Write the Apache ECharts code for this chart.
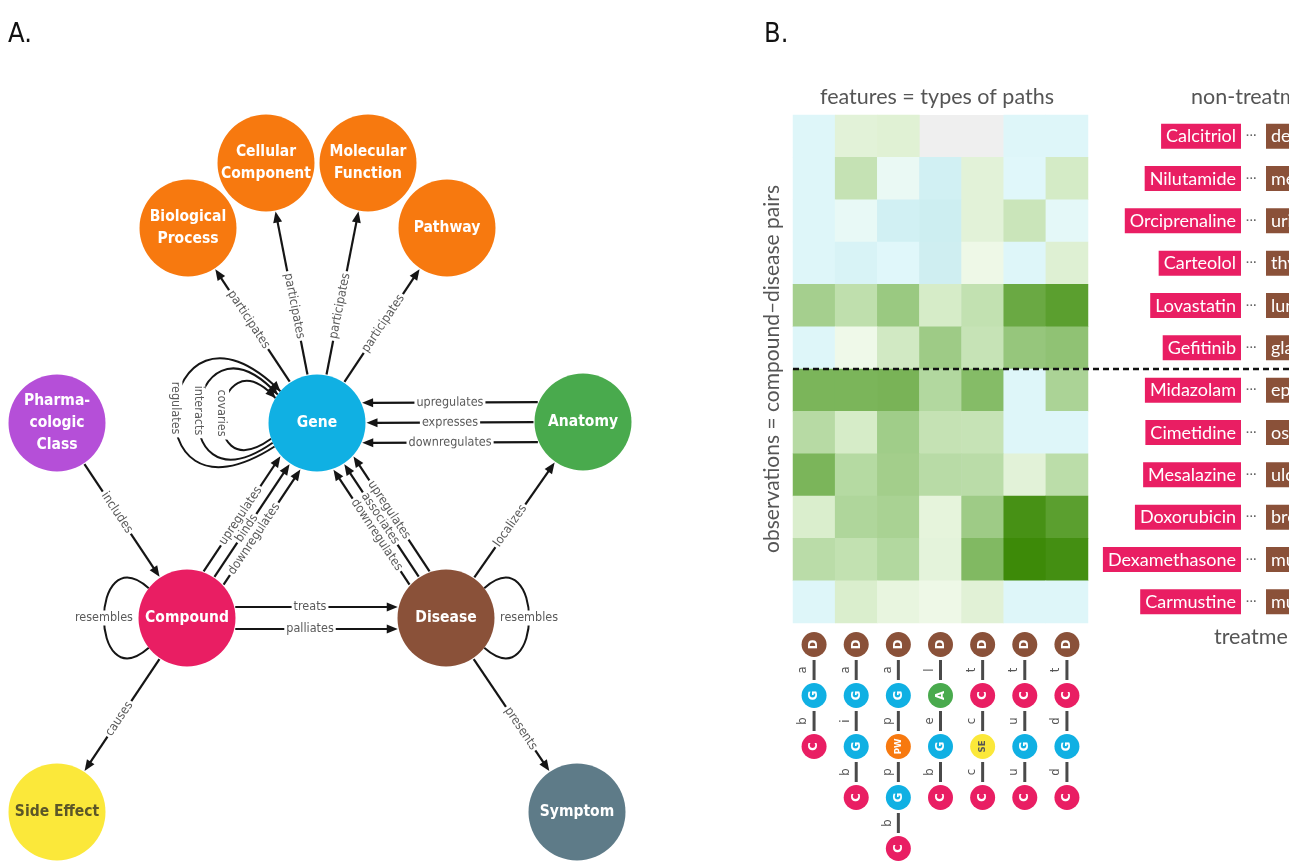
<!DOCTYPE html>
<html><head><meta charset="utf-8">
<script src="https://cdn.jsdelivr.net/npm/echarts@6/dist/echarts.min.js"></script>
<style>html,body{margin:0;padding:0;background:#fff}#c{width:1289px;height:861px}</style>
</head><body><div id="c"></div>
<script>
// ---------- Panel A: metagraph ----------
const nodeNames  = ['Biological Process','Cellular Component','Molecular Function','Pathway','Gene','Pharmacologic Class','Anatomy','Compound','Disease','Side Effect','Symptom'];
const nodeLabels = ['Biological\nProcess','Cellular\nComponent','Molecular\nFunction','Pathway','Gene','Pharma-\ncologic\nClass','Anatomy','Compound','Disease','Side Effect','Symptom'];
const nodeX = [188, 266, 368, 447, 317, 57, 583, 187, 446, 57, 577];
const nodeY = [228, 163, 163, 228, 423, 423, 422, 618, 618, 812, 812];
const nodeColors = ['#f7790f','#f7790f','#f7790f','#f7790f','#10b0e3','#b54fd8','#49aa4d','#e91e63','#8a5139','#fbe83a','#5e7b88'];

const edgeSources = ['Gene','Gene','Gene','Gene','Anatomy','Anatomy','Anatomy','Pharmacologic Class','Compound','Compound','Compound','Disease','Disease','Disease','Disease','Compound','Compound','Compound','Disease'];
const edgeTargets = ['Biological Process','Cellular Component','Molecular Function','Pathway','Gene','Gene','Gene','Compound','Gene','Gene','Gene','Gene','Gene','Gene','Anatomy','Disease','Disease','Side Effect','Symptom'];
const edgeLabels  = ['participates','participates','participates','participates','upregulates','expresses','downregulates','includes','upregulates','binds','downregulates','downregulates','associates','upregulates','localizes','treats','palliates','causes','presents'];
// perpendicular offset of parallel edges and label position along edge (layout only)
const edgeOffsets  = [0,0,0,0, 20,0,-20, 0, -12,0,12, -12,0,12, 0, -11,11, 0,0];
const edgeLabelPos = [0.53,0.45,0.45,0.51, 0.5,0.5,0.5, 0.46, 0.49,0.46,0.44, 0.46,0.51,0.52, 0.47, 0.475,0.475, 0.52,0.57];

const loopNodes  = ['Gene','Gene','Gene','Compound','Disease'];
const loopLabels = ['regulates','interacts','covaries','resembles','resembles'];
// loop geometry (layout only): direction, endpoint spread, reach, control spread
const loopDir    = [186, 186, 186, 180, 0];
const loopSpread = [35, 30, 25, 38, 38];
const loopReach  = [225, 185, 140, 128, 128];
const loopCtrl   = [38, 38, 36, 40, 40];

// ---------- Panel B: feature matrix ----------
const compounds = ['Calcitriol','Nilutamide','Orciprenaline','Carteolol','Lovastatin','Gefitinib','Midazolam','Cimetidine','Mesalazine','Doxorubicin','Dexamethasone','Carmustine'];
const diseases  = ['dermatitis','melanoma','urinary bladder cancer','thyroid cancer','lung cancer','glaucoma','epilepsy syndrome','osteoarthritis','ulcerative colitis','breast cancer','multiple sclerosis','multiple myeloma'];
const metapaths = ['CbGaD','CbGiGaD','CbGpPWpGaD','CbGeAlD','CcSEcCtD','CuGuCtD','CdGdCtD'];
const pathNodes = [['C','G','D'],['C','G','G','D'],['C','G','PW','G','D'],['C','G','A','D'],['C','SE','C','D'],['C','G','C','D'],['C','G','C','D']];
const pathEdges = [['b','a'],['b','i','a'],['b','p','p','a'],['b','e','l'],['c','c','t'],['u','u','t'],['d','d','t']];
const heatValues = [
  [-0.30, 0.15, 0.17, null, null, -0.30, -0.30],
  [-0.30, 0.36, -0.12, -0.60, 0.15, -0.25, 0.26],
  [-0.30, -0.15, -0.60, -0.68, 0.15, 0.33, -0.20],
  [-0.30, -0.45, -0.25, -0.65, 0.05, -0.30, 0.18],
  [0.55, 0.40, 0.60, 0.25, 0.38, 0.82, 0.88],
  [-0.30, 0.04, 0.28, 0.58, 0.35, 0.62, 0.65],
  [0.75, 0.75, 0.76, 0.48, 0.70, -0.30, 0.52],
  [0.45, 0.25, 0.57, 0.36, 0.35, -0.30, -0.30],
  [0.75, 0.46, 0.56, 0.44, 0.43, 0.15, 0.42],
  [0.22, 0.50, 0.53, 0.12, 0.58, 0.96, 0.88],
  [0.43, 0.38, 0.48, 0.13, 0.72, 1.00, 0.97],
  [-0.30, 0.22, 0.10, 0.05, 0.16, -0.30, -0.30]
];

const NARROW = "'Liberation Sans Narrow','DejaVu Sans Condensed','Roboto Condensed',Roboto,sans-serif";
const LATO = "Lato,'Open Sans',sans-serif";
const R = 48.5;
const nodeIdx = n => nodeNames.indexOf(n);

function renderEdge(params, api){
  const i = params.dataIndex;
  const s = nodeIdx(edgeSources[i]), t = nodeIdx(edgeTargets[i]);
  const P = api.coord([nodeX[s], nodeY[s]]), Q = api.coord([nodeX[t], nodeY[t]]);
  const dx = Q[0]-P[0], dy = Q[1]-P[1], L = Math.hypot(dx,dy);
  const ux = dx/L, uy = dy/L, nx = -uy, ny = ux;
  const o = edgeOffsets[i];
  const d = Math.sqrt(R*R - o*o);
  const sx = P[0]+ux*(d+1)+nx*o, sy = P[1]+uy*(d+1)+ny*o;
  const ex = Q[0]-ux*(d+1)+nx*o, ey = Q[1]-uy*(d+1)+ny*o;
  const ah = 11, aw = 4.5;
  const bx = ex-ux*ah, by = ey-uy*ah;
  const tp = edgeLabelPos[i];
  const lx = P[0]+dx*tp+nx*o, ly = P[1]+dy*tp+ny*o;
  let th = Math.atan2(uy, ux);
  if (ux < -1e-6) th += Math.PI;
  return {type:'group', children:[
    {type:'line', shape:{x1:sx,y1:sy,x2:bx+ux*2,y2:by+uy*2}, style:{stroke:'#151515', lineWidth:2.2}},
    {type:'polygon', shape:{points:[[ex,ey],[bx+nx*aw,by+ny*aw],[bx-nx*aw,by-ny*aw]]}, style:{fill:'#151515'}},
    {type:'text', x:lx, y:ly, rotation:-th, z2:5, style:{text:edgeLabels[i], fill:'#5a5a5a', fontSize:12.5, fontFamily:NARROW,
      align:'center', verticalAlign:'middle', backgroundColor:'#fff', padding:[0,2]}}
  ]};
}

function renderLoop(params, api){
  const i = params.dataIndex;
  const k = nodeIdx(loopNodes[i]);
  const C = api.coord([nodeX[k], nodeY[k]]);
  const rad = a => a*Math.PI/180;
  const phi = loopDir[i], a = loopSpread[i], D = loopReach[i], b = loopCtrl[i];
  const p0 = [C[0]+R*Math.cos(rad(phi-a)), C[1]+R*Math.sin(rad(phi-a))];
  const p3 = [C[0]+R*Math.cos(rad(phi+a)), C[1]+R*Math.sin(rad(phi+a))];
  const c1 = [C[0]+D*Math.cos(rad(phi-b)), C[1]+D*Math.sin(rad(phi-b))];
  const c2 = [C[0]+D*Math.cos(rad(phi+b)), C[1]+D*Math.sin(rad(phi+b))];
  const mx = 0.125*(p0[0]+p3[0])+0.375*(c1[0]+c2[0]);
  const my = 0.125*(p0[1]+p3[1])+0.375*(c1[1]+c2[1]);
  const children = [
    {type:'bezierCurve', shape:{x1:p0[0],y1:p0[1],x2:p3[0],y2:p3[1],cpx1:c1[0],cpy1:c1[1],cpx2:c2[0],cpy2:c2[1]},
     style:{stroke:'#151515', lineWidth:2, fill:null}}
  ];
  const vertical = loopNodes[i] === 'Gene';
  if (vertical) {
    let tx = p3[0]-c2[0], ty = p3[1]-c2[1]; const tl = Math.hypot(tx,ty); tx/=tl; ty/=tl;
    const ex = p3[0], ey = p3[1], bx = ex-tx*10, by = ey-ty*10, nx=-ty, ny=tx;
    children.push({type:'polygon', shape:{points:[[ex,ey],[bx+nx*4.5,by+ny*4.5],[bx-nx*4.5,by-ny*4.5]]}, style:{fill:'#151515'}});
  }
  children.push({type:'text', x:mx, y:my, rotation: vertical ? -Math.PI/2 : 0, z2:5,
    style:{text:loopLabels[i], fill:'#5a5a5a', fontSize:12.5, fontFamily:NARROW, align:'center', verticalAlign:'middle',
      backgroundColor:'#fff', padding:[1,3]}});
  return {type:'group', children};
}

// ---------- path icon labels ----------
const circleColors = {C:'#e91e63', D:'#8a5139', G:'#10b0e3', A:'#49aa4d', SE:'#fbe83a', PW:'#f7790f'};
const pathRich = {};
Object.keys(circleColors).forEach(k => {
  pathRich['n'+k] = {width:25, height:25, lineHeight:20, borderRadius:12.5, backgroundColor:circleColors[k],
    color: k==='SE' ? '#555' : '#fff', align:'center', verticalAlign:'middle',
    fontSize: k.length>1 ? 9.5 : 13, fontWeight:'bold', fontFamily:NARROW};
});
pathRich.sp  = {width:25, height:2, lineHeight:2};
pathRich.el  = {width:26, height:2, lineHeight:2, align:'center', fontSize:13, color:'#555', fontFamily:NARROW, verticalAlign:'middle'};
pathRich.gap = {width:3, height:20, lineHeight:20};
pathRich.bar = {width:20, height:3, backgroundColor:'#4a4a4a', verticalAlign:'middle'};
pathRich.sp3 = {width:10, height:2, lineHeight:2};
function pathLabel(v, idx){
  const nodes = pathNodes[idx], edges = pathEdges[idx];
  let l1 = '', l2 = '';
  nodes.forEach((n,j) => {
    l1 += '{sp| }'; l2 += '{n'+n+'|'+n+'}';
    if (j < edges.length) { l1 += '{el|'+edges[j]+'}'; l2 += '{gap| }{bar| }{gap| }'; }
  });
  return l1 + '\n' + l2 + '\n{sp3| }';
}

const heatData = [];
heatValues.forEach((row, r) => row.forEach((v, c) => { if (v !== null) heatData.push([c, r, v]); }));

const chart = echarts.init(document.getElementById('c'), null, {renderer:'canvas'});
const hiddenCat = {axisLine:{show:false}, axisTick:{show:false}, splitLine:{show:false}};
const boxStyle = (bg) => ({backgroundColor:bg, color:'#fff', fontSize:18, fontFamily:LATO, padding:[4,5,3,5], lineHeight:19});
const option = {
  backgroundColor:'#fff',
  animation:false,
  title:[
    {text:'A.', left:8, top:21, padding:0, textStyle:{fontSize:27, fontWeight:'normal', color:'#111', fontFamily:NARROW}},
    {text:'B.', left:764, top:21, padding:0, textStyle:{fontSize:27, fontWeight:'normal', color:'#111', fontFamily:NARROW}},
    {text:'features = types of paths', left:937, top:86, padding:0, textAlign:'center', textStyle:{fontSize:21.5, fontWeight:'normal', color:'#555', fontFamily:LATO}},
    {text:'non-treatments', left:1191, top:86, padding:0, textStyle:{fontSize:21.5, fontWeight:'normal', color:'#555', fontFamily:LATO}},
    {text:'treatments', left:1214, top:626, padding:0, textStyle:{fontSize:21.5, fontWeight:'normal', color:'#555', fontFamily:LATO}}
  ],
  grid:[
    {left:0, top:0, width:1289, height:861, outerBoundsMode:'none', containLabel:false},
    {left:793, top:115, width:295, height:508, show:true, backgroundColor:'#efefef', borderWidth:0, outerBoundsMode:'none', containLabel:false}
  ],
  xAxis:[
    {gridIndex:0, type:'value', min:0, max:1289, show:false},
    Object.assign({gridIndex:1, type:'category', data:metapaths, position:'bottom',
      axisLabel:{interval:0, rotate:90, margin:9, formatter:pathLabel, rich:pathRich}}, hiddenCat)
  ],
  yAxis:[
    {gridIndex:0, type:'value', min:0, max:861, inverse:true, show:false},
    Object.assign({gridIndex:1, type:'category', data:compounds, inverse:true, position:'left',
      axisLabel:{show:false}, name:'observations = compound–disease pairs', nameLocation:'middle', nameRotate:90, nameGap:10,
      nameTextStyle:{fontSize:21, color:'#555', fontFamily:LATO}}, hiddenCat),
    Object.assign({gridIndex:1, type:'category', data:compounds, inverse:true, position:'right', offset:0,
      axisLabel:{interval:0, margin:153, align:'right', formatter:v => '{c|'+v+'}',
        rich:{c:boxStyle('#e91e63')}}}, hiddenCat),
    Object.assign({gridIndex:1, type:'category', data:compounds, inverse:true, position:'right', offset:0,
      axisLabel:{interval:0, margin:158, align:'left', formatter:(v,i) => '{dot|···}{d|'+diseases[i]+'}',
        rich:{dot:{width:20, color:'#666', fontSize:11, fontWeight:'bold'}, d:boxStyle('#8a5139')}}}, hiddenCat)
  ],
  visualMap:{type:'continuous', seriesIndex:3, min:-1, max:1, dimension:2, show:false,
    inRange:{color:['#bfe6ea','#caecef','#d6f2f5','#e0f7fa','#f4fbef','#d6ecc8','#afd69b','#7bb55a','#3d8a08']}},
  series:[
    {type:'custom', name:'edges', xAxisIndex:0, yAxisIndex:0, z:2, silent:true, renderItem:renderEdge,
     data:edgeLabels.map((l,i) => [i])},
    {type:'custom', name:'loops', xAxisIndex:0, yAxisIndex:0, z:2, silent:true, renderItem:renderLoop,
     data:loopLabels.map((l,i) => [i])},
    {type:'scatter', name:'nodes', xAxisIndex:0, yAxisIndex:0, z:4, silent:true, symbol:'circle', symbolSize:R*2,
     data:nodeNames.map((n,i) => ({name:n, value:[nodeX[i], nodeY[i]], itemStyle:{color:nodeColors[i], opacity:1},
       label:{show:true, position:'inside', formatter:nodeLabels[i], color: n==='Side Effect' ? '#5b5628' : '#fff',
         fontSize:15.5, fontWeight:'bold', fontFamily:NARROW, lineHeight:22}}))},
    {type:'heatmap', name:'features', xAxisIndex:1, yAxisIndex:1, data:heatData, silent:true, itemStyle:{borderWidth:0},
     emphasis:{disabled:true}}
  ]
};
chart.setOption(option);

// dashed separator between non-treatments and treatments
const ya = chart.convertToPixel({yAxisIndex:1}, compounds[5]);
const yb = chart.convertToPixel({yAxisIndex:1}, compounds[6]);
const xa = chart.convertToPixel({xAxisIndex:1}, metapaths[0]);
const xb = chart.convertToPixel({xAxisIndex:1}, metapaths[1]);
const ySep = (ya+yb)/2, xStart = xa-(xb-xa)/2;
chart.setOption({graphic:[{type:'line', silent:true, z:10,
  shape:{x1:xStart, y1:ySep, x2:chart.getWidth(), y2:ySep},
  style:{stroke:'#111', lineWidth:2.5, lineDash:[6,4]}}]});
</script>
</body></html>
